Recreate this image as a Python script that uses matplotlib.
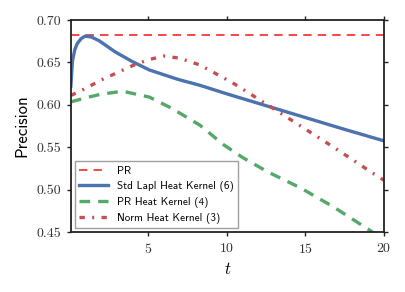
import numpy as np
import matplotlib
matplotlib.use('Agg')
import matplotlib.pyplot as plt

plt.rcParams['mathtext.fontset'] = 'cm'
plt.rcParams['axes.formatter.use_mathtext'] = True

# values
pr_level = 0.682

std_t = [0.1, 0.2, 0.35, 0.5, 0.75, 1.0, 1.4, 1.9, 2.9, 4.0, 5.1, 6.9, 8.3, 10.0, 12.5, 15.0, 17.5, 20.0]
std_p = [0.622, 0.652, 0.665, 0.672, 0.678, 0.681, 0.680, 0.6755, 0.6626, 0.651, 0.641, 0.630, 0.623, 0.613, 0.599, 0.585, 0.571, 0.5575]

prh_t = [0.1, 1.0, 2.0, 3.4, 5.1, 6.5, 8.3, 9.8, 11.0, 12.6, 14.7, 16.8, 19.1, 20.0]
prh_p = [0.6035, 0.608, 0.6125, 0.616, 0.609, 0.596, 0.576, 0.553, 0.538, 0.521, 0.502, 0.4795, 0.452, 0.440]

norm_t = [0.1, 1.0, 2.0, 3.0, 4.0, 5.0, 6.0, 7.0, 8.3, 10.4, 12.6, 14.7, 16.8, 19.0, 20.0]
norm_p = [0.611, 0.619, 0.629, 0.6375, 0.646, 0.653, 0.6575, 0.655, 0.647, 0.6257, 0.600, 0.575, 0.550, 0.523, 0.511]

fig = plt.figure(figsize=(4.05, 2.92), dpi=100)
ax = fig.add_axes([0.175, 0.2055, 0.773, 0.726])

ax.axhline(pr_level, color='#f01818', lw=1.1, ls=(0, (5.5, 4)), label='PR')
ax.plot(std_t, std_p, color='#4c72b0', lw=2.4, label='Std Lapl Heat Kernel (6)')
ax.plot(prh_t, prh_p, color='#55a868', lw=2.4, ls=(0, (3.2, 2.4)), label='PR Heat Kernel (4)')
ax.plot(norm_t, norm_p, color='#c44e52', lw=2.4, ls=(0, (1.6, 2.2, 0.6, 2.2)), label='Norm Heat Kernel (3)')

ax.set_xlim(0.1, 20)
ax.set_ylim(0.45, 0.70)
ax.set_xticks([5, 10, 15, 20])
ax.set_yticks([0.45, 0.50, 0.55, 0.60, 0.65, 0.70])
ax.set_yticklabels(['0.45', '0.50', '0.55', '0.60', '0.65', '0.70'])

for s in ax.spines.values():
    s.set_linewidth(1.3)
    s.set_color('#222222')
ax.tick_params(direction='out', length=3, width=1, top=True, right=True,
               labeltop=False, labelright=False, colors='#222222', pad=4)
for lab in ax.get_xticklabels() + ax.get_yticklabels():
    lab.set_family('cmr10')
    lab.set_fontsize(10)
    lab.set_color('#333333')

ax.set_xlabel('$t$', fontsize=12, labelpad=3)
ax.set_ylabel('Precision', family='cmss10', fontsize=12, labelpad=5)

leg = ax.legend(loc='lower left', prop={'family': 'cmss10', 'size': 8}, fancybox=False,
                handlelength=2.6, borderaxespad=0.35, labelspacing=0.45, borderpad=0.4)
leg.get_frame().set_edgecolor('#888888')
leg.get_frame().set_linewidth(1.0)

fig.savefig('out.png', dpi=100)
